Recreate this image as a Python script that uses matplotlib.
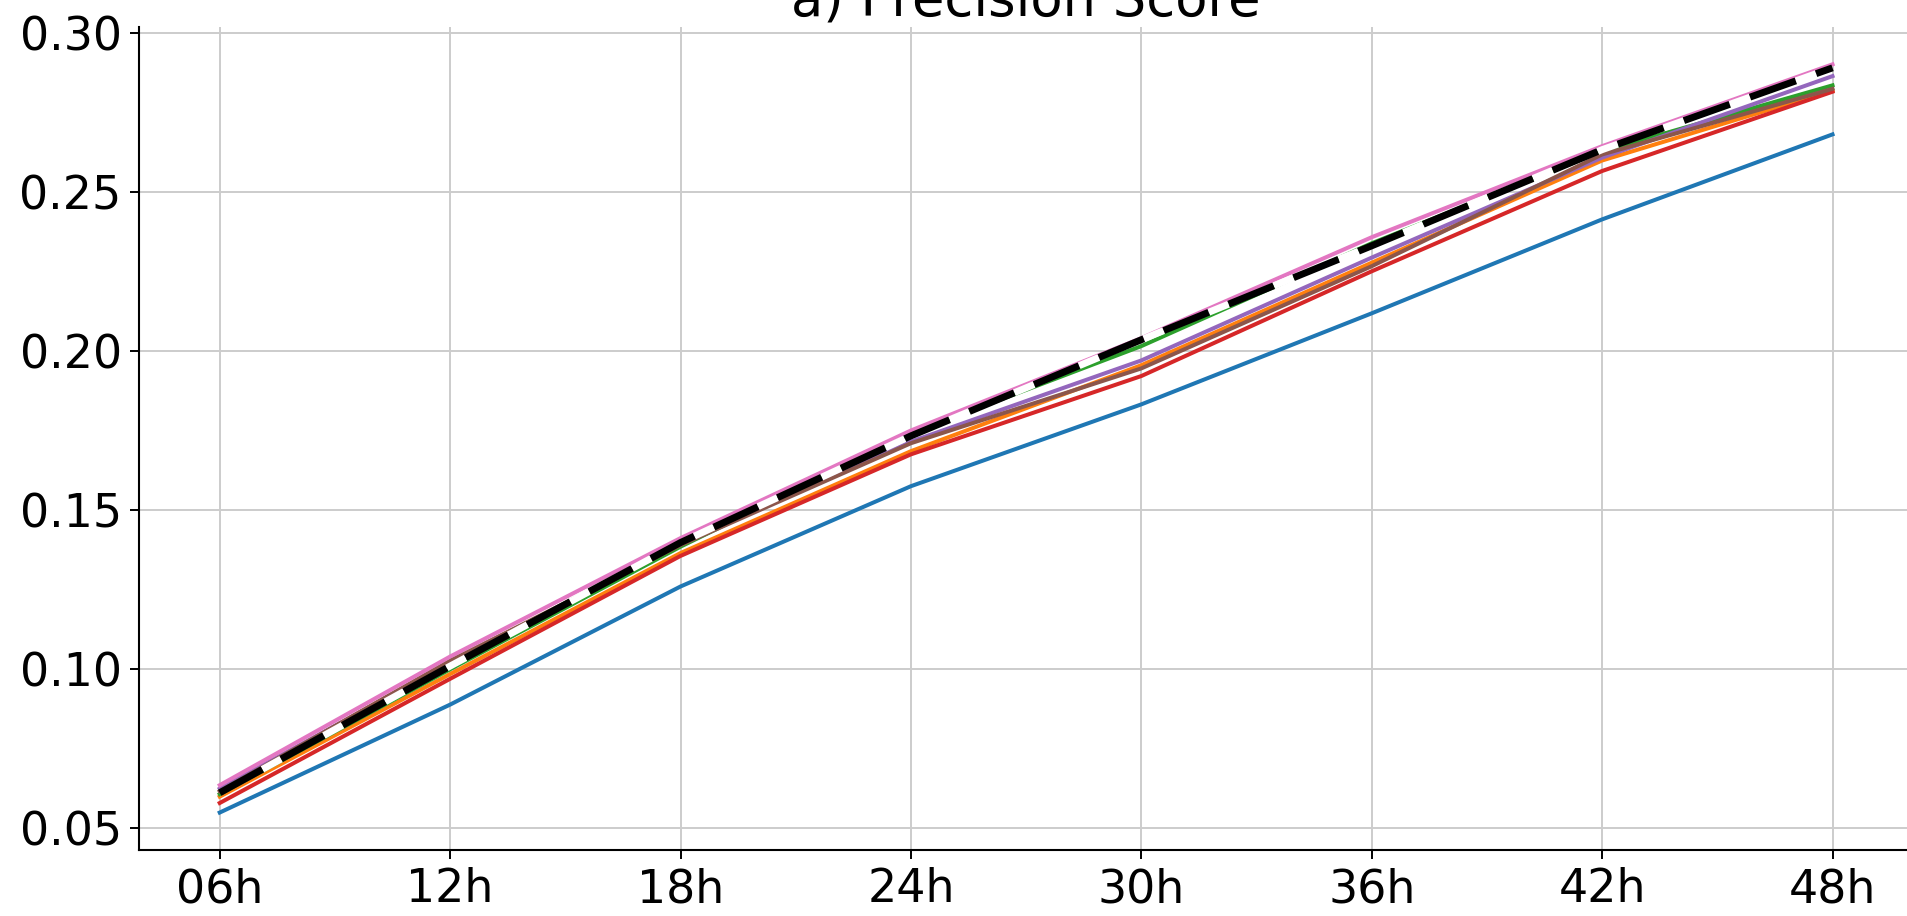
#! /usr/bin/env python3
# -*- coding: utf-8 -*-
"""Precision score vs lead time for several models (panel a)."""

import matplotlib as mpl
mpl.use('Agg')

import matplotlib.pyplot as plt

lead_times = ['06h', '12h', '18h', '24h', '30h', '36h', '42h', '48h']

blue = [0.0550, 0.0889, 0.1260, 0.1575, 0.1832, 0.2118, 0.2413, 0.2680]
orange = [0.0600, 0.0985, 0.1365, 0.1685, 0.1955, 0.2277, 0.2598, 0.2818]
green = [0.0608, 0.1000, 0.1385, 0.1740, 0.2015, 0.2338, 0.2627, 0.2834]
red = [0.0580, 0.0970, 0.1356, 0.1675, 0.1921, 0.2250, 0.2565, 0.2814]
purple = [0.0625, 0.1020, 0.1395, 0.1715, 0.1970, 0.2293, 0.2607, 0.2863]
brown = [0.0617, 0.1027, 0.1390, 0.1710, 0.1945, 0.2266, 0.2617, 0.2823]
pink = [0.0636, 0.1040, 0.1412, 0.1750, 0.2040, 0.2357, 0.2643, 0.2900]
reference = [0.0612, 0.1010, 0.1398, 0.1733, 0.2035, 0.2330, 0.2632, 0.2889]

fig = plt.figure(figsize=(19.08, 9.16), dpi=100)
# axes runs slightly past the right edge, as in the original crop
ax = fig.add_axes([0.0729, 0.0721, 0.9298, 0.8985])

x = range(len(lead_times))
lw = 2.9
for series, col in [(blue, 'tab:blue'), (orange, 'tab:orange'), (green, 'tab:green'),
                    (red, 'tab:red'), (purple, 'tab:purple'), (brown, 'tab:brown'),
                    (pink, 'tab:pink')]:
    ax.plot(x, series, color=col, linewidth=lw)
ax.plot(x, reference, color='black', linewidth=5.0, dashes=(7.0, 3.1),
        gapcolor='white')

ax.set_xticks(list(x))
ax.set_xticklabels(lead_times)
ax.set_yticks([0.05, 0.10, 0.15, 0.20, 0.25, 0.30])
ax.set_yticklabels(['0.05', '0.10', '0.15', '0.20', '0.25', '0.30'])
ax.grid(True, color='#cccccc', linewidth=1.4)
ax.set_axisbelow(True)

ax.spines['top'].set_visible(False)
ax.spines['right'].set_visible(False)
for s in ['left', 'bottom']:
    ax.spines[s].set_linewidth(1.5)
ax.tick_params(labelsize=33, length=6.5, width=1.4, pad=6)

ax.set_title('a) Precision Score', fontsize=38, pad=4)

plt.savefig('out.png', dpi=100)
